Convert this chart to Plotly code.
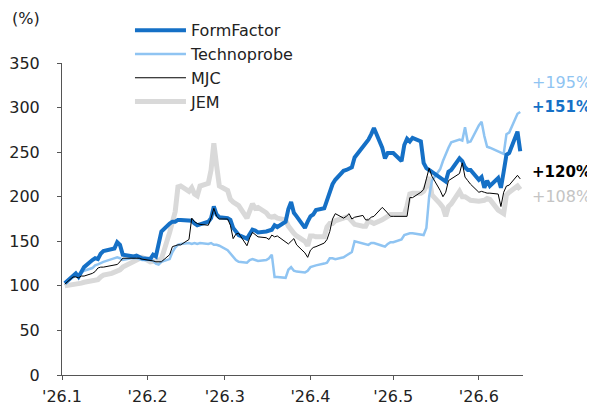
import pandas as pd
import plotly.graph_objects as go

dates = pd.bdate_range("2026-01-02", "2026-06-16")

formfactor = [103,112,114,110,115,121,129,131,130,136,139,141,142,149,146,135,133,133,134,133,131,
              130,135,133,150,161,170,172,172,174,174,174,173,170,168,169,172,176,189,180,177,
              176,174,165,161,157,153,158,163,162,160,161,162,163,168,166,172,186,194,182,178,165,172,
              178,180,185,187,197,206,214,219,229,230,231,233,244,256,259,264,270,277,255,243,249,249,
              249,240,258,265,262,266,262,238,232,230,228,222,220,217,228,230,243,240,233,230,230,
              219,222,210,218,212,221,210,228,247,249,273,251]
technoprobe = [104,110,112,113,115,117,120,123,124,126,127,130,131,132,131,129,131,131,131,130,129,
               129,128,125,124,127,130,138,143,146,147,148,147,148,147,148,147,148,146,146,145,
               140,136,133,129,127,126,129,130,129,128,129,131,135,110,110,109,118,121,117,116,115,117,
               121,122,123,125,126,131,131,130,132,134,136,138,150,148,147,146,148,148,145,144,147,149,
               149,152,157,158,159,159,158,157,165,200,218,231,240,248,255,261,264,263,278,261,262,
               280,284,268,256,255,251,250,248,270,272,293,295]
mjc = [102,110,110,109,111,111,114,116,120,121,121,123,123,124,127,131,131,131,131,131,130,
       129,128,127,127,127,135,144,145,146,146,152,176,172,170,169,168,176,187,178,175,
       175,168,153,158,159,145,154,160,157,155,154,152,157,155,156,150,147,150,153,146,137,132,
       140,143,144,148,152,161,175,181,176,178,181,175,177,179,174,174,177,178,188,185,182,178,
       178,178,178,178,199,199,205,208,220,232,223,207,200,205,218,220,226,238,222,218,214,
       205,206,205,204,204,203,189,205,212,213,224,220]
jem = [100,101,102,103,103,104,105,106,107,110,112,114,115,116,118,121,126,127,128,130,132,
       127,127,128,129,130,160,172,183,211,212,206,210,203,201,212,215,230,260,235,212,
       207,197,194,192,190,176,186,192,187,188,182,178,177,178,176,174,167,162,159,156,150,145,
       156,156,155,155,166,170,170,173,176,177,176,172,169,167,167,173,172,170,174,176,179,180,
       180,180,180,190,203,204,204,206,212,222,202,192,188,178,189,192,206,200,200,198,196,
       195,195,196,198,197,185,183,181,202,205,212,208]

names = ["FormFactor", "Technoprobe", "MJC", "JEM"]
series = [formfactor, technoprobe, mjc, jem]
colors = ["#1570c6", "#8fc4f2", "#000000", "#d9d9d9"]
widths = [4, 2.5, 1, 5]
label_colors = ["#1570c6", "#8fc4f2", "#000000", "#c4c4c4"]
label_bold = [True, False, True, False]
label_y = [301, 328, 228, 200]

tick_vals = ["2026-01-01", "2026-02-01", "2026-03-01", "2026-04-01", "2026-05-01", "2026-06-01"]
tick_text = ["'26.1", "'26.2", "'26.3", "'26.4", "'26.5", "'26.6"]

FONT = "DejaVu Sans"
TXT = "#222"

fig = go.Figure()
draw_order = [3, 1, 0, 2]
for i in draw_order:
    fig.add_trace(go.Scatter(
        x=dates, y=series[i], mode="lines", name=names[i],
        line=dict(color=colors[i], width=widths[i]),
        legendrank=i + 1,
    ))

for i in range(4):
    txt = f"+{series[i][-1] - 100}%"
    size = 16
    if label_bold[i]:
        txt = f"<b>{txt}</b>"
        size = 15
    fig.add_annotation(x=1.016, xref="paper", y=label_y[i], yref="y",
                       text=txt, showarrow=False, xanchor="left", yanchor="middle",
                       font=dict(family=FONT, size=size, color=label_colors[i]))

fig.add_annotation(x=-0.112, xref="paper", y=1.144, yref="paper", text="(%)",
                   showarrow=False, xanchor="left", yanchor="middle",
                   font=dict(family=FONT, size=16, color=TXT))

fig.update_layout(
    width=595, height=405,
    margin=dict(l=54, r=80, t=55, b=38, autoexpand=False),
    paper_bgcolor="white", plot_bgcolor="white",
    font=dict(family=FONT, size=16, color=TXT),
    showlegend=True,
    legend=dict(x=0.205, y=0.987, xref="container", yref="container",
                xanchor="left", yanchor="top",
                bgcolor="rgba(0,0,0,0)", font=dict(size=16, family=FONT, color=TXT),
                tracegroupgap=0, itemwidth=51),
    xaxis=dict(range=["2026-01-01", "2026-06-17"], tickvals=tick_vals, ticktext=tick_text,
               showgrid=False, zeroline=False, showline=True, linecolor="#555", linewidth=1,
               ticks="outside", ticklen=4, tickcolor="#555", automargin=False,
               ticklabelstandoff=3,
               tickfont=dict(size=16, family=FONT, color=TXT)),
    yaxis=dict(range=[0, 350], tickvals=[0, 50, 100, 150, 200, 250, 300, 350],
               showgrid=False, zeroline=False, showline=True, linecolor="#555", linewidth=1,
               ticks="outside", ticklen=4, tickcolor="#555", ticklabelstandoff=14,
               automargin=False, tickfont=dict(size=16, family=FONT, color=TXT)),
)

fig.write_html("out.html")
